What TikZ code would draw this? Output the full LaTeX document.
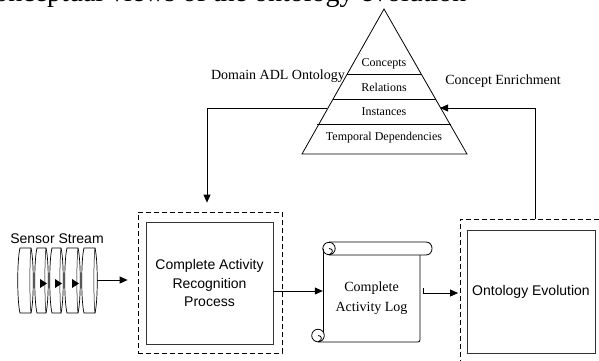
\documentclass[tikz,border=0pt]{standalone}
\usepackage{fontspec}
\setmainfont{Liberation Serif}
\setsansfont{Liberation Sans}
\usetikzlibrary{arrows.meta,calc}
\tikzset{
  ln/.style={line width=0.8pt, draw=black},
  arr/.style={ln, -{Triangle[length=8pt,width=7pt]}},
  dbox/.style={ln, dash pattern=on 5pt off 3pt, minimum width=#1},
  sbox/.style={ln, draw=black!80, align=center, font=\sffamily\fontsize{14}{18.5}\selectfont},
  lbl/.style={font=\fontsize{14}{16}\selectfont, inner sep=0pt},
  layer/.style={font=\fontsize{12}{14}\selectfont, inner sep=0pt},
  seg/.style={ln, line width=0.7pt, fill=white},
  tri/.style={fill=black, draw=none}
}
\begin{document}
\begin{tikzpicture}[x=1pt,y=-1pt]
\useasboundingbox (0,0) rectangle (599,360);

% cut-off caption at the top
\node[anchor=base west, inner sep=0pt, font=\fontsize{28}{30}\selectfont] (title) at (-24.5,1) {Conceptual views of the ontology evolution};

% ---------- pyramid ----------
\coordinate (apex) at (384,9);
\coordinate (bl) at (302,154);
\coordinate (br) at (467,154);
\draw[ln] (apex) -- (bl) -- (br) -- cycle;
\draw[ln] (347,74) -- (422,74);
\draw[ln] (333,99) -- (436,99);
\draw[ln] (317,124) -- (451,124);
\node[layer] (l1) at (384,64) {Concepts};
\node[layer] (l2) at (384,87) {Relations};
\node[layer] (l3) at (384,112) {Instances};
\node[layer] (l4) at (384,138) {Temporal Dependencies};
\coordinate (pyrL) at (327,108);
\coordinate (pyrR) at (440,108);

\node[lbl] (dom) at (278,76) {Domain ADL Ontology};
\node[lbl] (enr) at (503,81) {Concept Enrichment};

% ---------- sensor stream ----------
\node[inner sep=0pt, font=\sffamily\fontsize{14}{16}\selectfont] (ss) at (57,239) {Sensor Stream};
\foreach \a/\b in {18/33,35/48,50/63,65/80,82/97}{
  \draw[seg] (\a+2,248) -- (\b-2,248) .. controls (\b+1,260) and (\b+1,301) .. (\b-2,313)
    -- (\a+2,313) .. controls (\a-1,301) and (\a-1,260) .. (\a+2,248) -- cycle;
  \draw[ln, line width=0.5pt] (\b-2,248) .. controls (\b-3.5,260) and (\b-3.5,301) .. (\b-2,313);
}
\foreach \t in {47,62,79}{
  \fill[tri] (\t-7,279) -- (\t,283.5) -- (\t-7,288) -- cycle;
}
\coordinate (streamR) at (97,280);

% ---------- complete activity recognition process ----------
\node[dbox=144pt, minimum height=141pt] (carpD) at (210,282.5) {};
\node[sbox, minimum width=127pt, minimum height=122pt] (carp) at (209.5,283) {Complete Activity\\Recognition\\Process};

% ---------- complete activity log (scroll) ----------
\draw[ln] (329,242) -- (426,242) .. controls (434,242) and (434,255) .. (426,255) -- (329,255);
\draw[ln, fill=white] (329,248.5) circle (6.2);
\draw[ln] (329,248.5) .. controls (333,248.5) and (334,253) .. (329,254.7);
\draw[ln] (323,249) -- (323,335);
\draw[ln] (420,255) -- (420,337) .. controls (420,342) .. (415,342) -- (318,342);
\draw[ln, fill=white] (318,335.5) circle (6.3);
\draw[ln] (318,335.5) .. controls (322,335.5) and (323,340) .. (318,341.8);
\node[inner sep=0pt, align=center, minimum width=97pt, minimum height=88pt, font=\fontsize{14}{20}\selectfont] (log) at (371.5,298) {Complete\\Activity Log};
\coordinate (logout) at (423,288);

% ---------- ontology evolution ----------
\node[dbox=150pt, minimum height=151pt] (ontoD) at (535,294.5) {};
\node[sbox, minimum width=128pt, minimum height=123pt] (onto) at (531,291.5) {Ontology Evolution};

% ---------- connectors ----------
\draw[arr] (streamR) -- ($(carpD.west |- streamR)+(-10,0)$);
\draw[arr] (pyrL) -| ($(carpD.north)+(-3,-9)$);
\draw[arr] ($(carp.east)+(0,8)$) -- (log.west |- {$(carp.east)+(0,8)$});
\draw[arr] (logout) |- ($(ontoD.west |- logout)+(-1.5,5)$);
\draw[arr] (ontoD.north) |- (pyrR);
\end{tikzpicture}
\end{document}
